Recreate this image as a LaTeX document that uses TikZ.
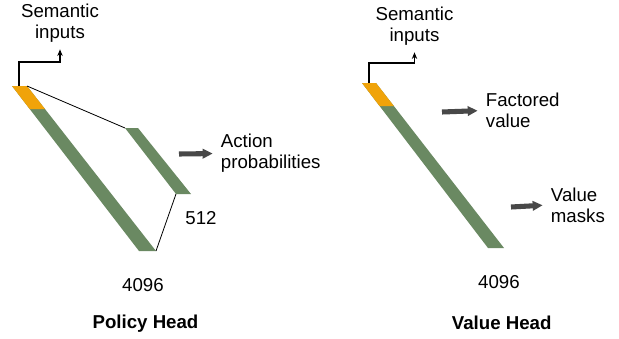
\documentclass[tikz,border=0pt]{standalone}
\usepackage{fontspec}
\setmainfont{Liberation Sans}
\usetikzlibrary{arrows.meta,calc}

\definecolor{semorange}{RGB}{240,163,10}
\definecolor{densegreen}{RGB}{106,137,98}
\definecolor{outgray}{RGB}{72,72,72}

\begin{document}
\begin{tikzpicture}[
        x=0.75pt, y=-0.75pt,
        lbl/.style={inner sep=2pt, font=\fontsize{14}{16}\selectfont, align=center},
        ttl/.style={lbl, font=\fontsize{14}{16}\selectfont\bfseries},
        dense/.style={fill=densegreen},
        sem/.style={fill=semorange},
        link/.style={draw=black, line width=0.6pt},
        inarr/.style={-{Stealth[length=5pt,width=4pt]}, line width=1pt, shorten >=3pt},
        outarr/.style={-{Triangle[length=7.5pt,width=7pt]}, line width=3.8pt, draw=outgray, shorten >=4pt}
    ]
        \useasboundingbox (0,0) rectangle (619,339);

        % Policy head: 4096 layer
        \coordinate (pA) at (12,86);
        \coordinate (pB) at (27,86);
        \coordinate (pC) at (156,251);
        \coordinate (pD) at (139,251);
        \fill[dense] (pA) -- (pB) -- (pC) -- (pD) -- cycle;
        \fill[sem] (pA) -- (pB) -- ($(pB)!0.14!(pC)$) -- ($(pA)!0.14!(pD)$) -- cycle;

        % Policy head: 512 layer
        \coordinate (qA) at (125,128);
        \coordinate (qB) at (138,128);
        \coordinate (qC) at (191,194);
        \coordinate (qD) at (176,194);
        \fill[dense] (qA) -- (qB) -- (qC) -- (qD) -- cycle;

        % Connections
        \draw[link] (pB) -- (qA);
        \draw[link] (qD) -- (pC);

        % Policy labels
        \node[lbl] (psem) at (60,23) {Semantic\\inputs};
        \node[lbl, anchor=west, align=left] (pact) at (218,153.5) {Action\\probabilities};
        \node[lbl] (p512) at (201,218.5) {512};
        \node[lbl] (p4096) at (143,285) {4096};
        \node[ttl] (ptitle) at (145.5,324) {Policy Head};

        \coordinate (pin) at (19,86);
        \draw[inarr] (pin) -- ++(0,-24) -| (psem.south);
        \coordinate (pout) at (179,154);
        \draw[outarr] (pout) -- (pact.west);

        % Value head: 4096 layer
        \coordinate (vA) at (362,83);
        \coordinate (vB) at (376,83);
        \coordinate (vC) at (504,248);
        \coordinate (vD) at (488,248);
        \fill[dense] (vA) -- (vB) -- (vC) -- (vD) -- cycle;
        \fill[sem] (vA) -- (vB) -- ($(vB)!0.14!(vC)$) -- ($(vA)!0.14!(vD)$) -- cycle;

        % Value labels
        \node[lbl] (vsem) at (414.5,26) {Semantic\\inputs};
        \node[lbl, anchor=west, align=left] (vfac) at (483,110.5) {Factored\\value};
        \node[lbl, anchor=west, align=left] (vmask) at (548,205) {Value\\masks};
        \node[lbl] (v4096) at (499,282) {4096};
        \node[ttl] (vtitle) at (501.7,323) {Value Head};

        \coordinate (vin) at (369,83);
        \draw[inarr] (vin) -- ++(0,-20) -| (vsem.south);
        \coordinate (vfout) at (442,112);
        \draw[outarr] (vfout) -- (vfac.west);
        \coordinate (vmout) at (511,207);
        \draw[outarr] (vmout) -- (vmask.west);
    \end{tikzpicture}
\end{document}
